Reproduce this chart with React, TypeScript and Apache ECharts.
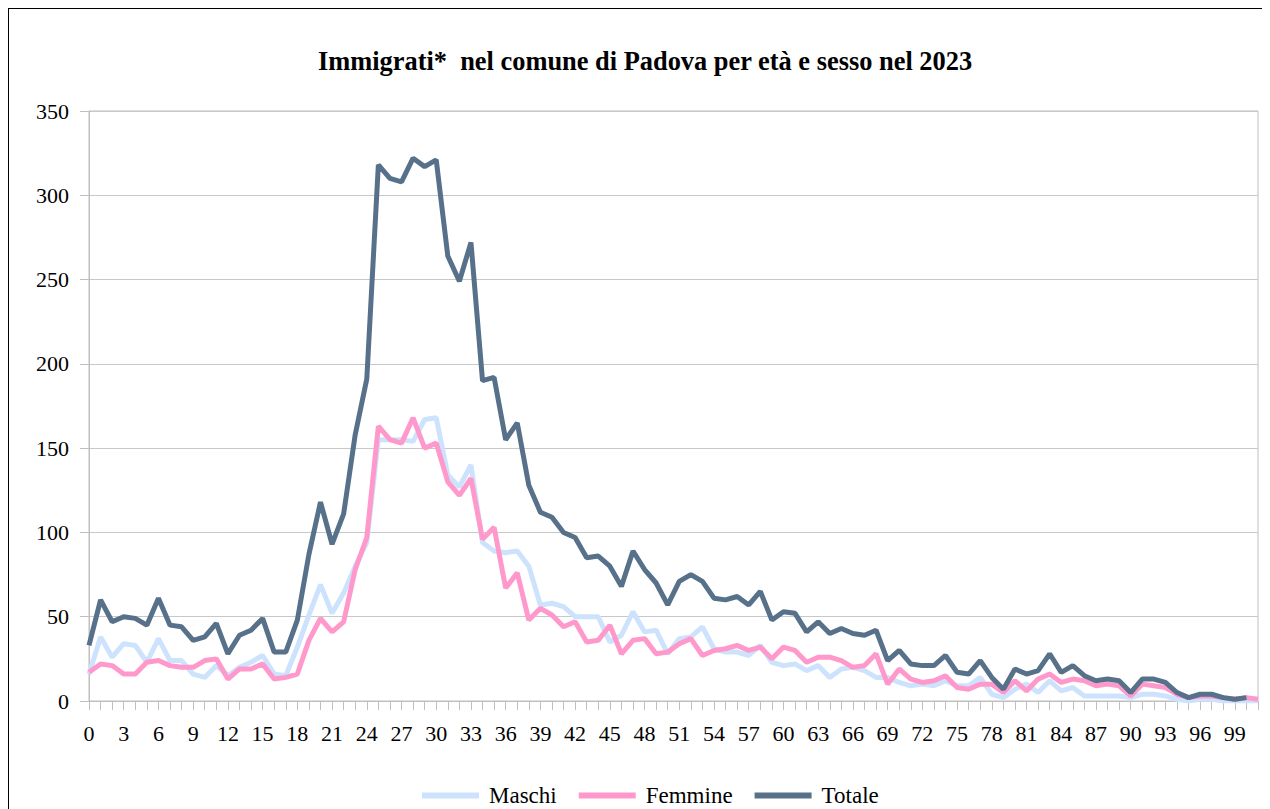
import React, { useEffect, useRef } from "react";
import * as echarts from "echarts";

const ages: string[] = Array.from({ length: 102 }, (_, i) => String(i));

const maschi = [
  16, 38, 26, 34, 33, 23, 37, 24, 24, 16, 14, 21, 15, 20, 23, 27, 16, 15, 32, 51,
  69, 52, 64, 80, 94, 155, 155, 155, 154, 167, 168, 134, 127, 140, 94, 89, 88, 89, 80, 57,
  58, 56, 50, 50, 50, 35, 39, 53, 41, 42, 28, 37, 38, 44, 31, 29, 29, 27, 33, 23,
  21, 22, 18, 21, 14, 19, 20, 18, 14, 14, 11, 9, 10, 9, 12, 9, 9, 14, 4, 2,
  7, 10, 5, 12, 6, 8, 3, 3, 3, 3, 2, 4, 4, 3, 1, 0, 1, 1, 0, 0,
  0, 0,
];

const femmine = [
  17, 22, 21, 16, 16, 23, 24, 21, 20, 20, 24, 25, 13, 19, 19, 22, 13, 14, 16, 36,
  49, 41, 47, 78, 97, 163, 155, 153, 168, 150, 153, 130, 122, 132, 96, 103, 67, 76, 48, 55,
  51, 44, 47, 35, 36, 45, 28, 36, 37, 28, 29, 34, 37, 27, 30, 31, 33, 30, 32, 25,
  32, 30, 23, 26, 26, 24, 20, 21, 28, 10, 19, 13, 11, 12, 15, 8, 7, 10, 10, 5,
  12, 6, 13, 16, 11, 13, 12, 9, 10, 9, 3, 10, 9, 8, 4, 2, 3, 3, 2, 1,
  2, 1,
];

const totale = [
  33, 60, 47, 50, 49, 45, 61, 45, 44, 36, 38, 46, 28, 39, 42, 49, 29, 29, 48, 87,
  118, 93, 111, 158, 191, 318, 310, 308, 322, 317, 321, 264, 249, 272, 190, 192, 155, 165, 128, 112,
  109, 100, 97, 85, 86, 80, 68, 89, 78, 70, 57, 71, 75, 71, 61, 60, 62, 57, 65, 48,
  53, 52, 41, 47, 40, 43, 40, 39, 42, 24, 30, 22, 21, 21, 27, 17, 16, 24, 14, 7,
  19, 16, 18, 28, 17, 21, 15, 12, 13, 12, 5, 13, 13, 11, 5, 2, 4, 4, 2, 1,
  2,
];

const seriesNames = ["Maschi", "Femmine", "Totale"];
const titleText = "Immigrati*  nel comune di Padova per età e sesso nel 2023";

const FONT = "Liberation Serif";

export default function App() {
  const ref = useRef<HTMLDivElement>(null);
  useEffect(() => {
    document.documentElement.style.overflow = "hidden";
    if (!ref.current) return;
    const chart = echarts.init(ref.current, undefined, { renderer: "svg" });
    chart.setOption({
      animation: false,
      backgroundColor: "#ffffff",
      textStyle: { fontFamily: FONT },
      title: {
        text: titleText,
        left: 304,
        top: 34,
        textStyle: { fontFamily: FONT, fontSize: 26.4, fontWeight: "bold", color: "#000" },
      },
      legend: {
        data: seriesNames,
        left: 408,
        top: 770,
        icon: "rect",
        itemWidth: 57,
        itemHeight: 6,
        itemGap: 22,
        textStyle: { fontFamily: FONT, fontSize: 23, color: "#000", padding: [0, 0, 0, 5] },
      },
      grid: {
        left: 80,
        right: 12,
        top: 102,
        bottom: 108,
        show: true,
        borderColor: "#bfbfbf",
        borderWidth: 1,
      },
      xAxis: {
        type: "category",
        data: ages,
        boundaryGap: false,
        axisLine: { lineStyle: { color: "#bfbfbf", width: 1 } },
        axisTick: { show: true, interval: 0, length: 9, lineStyle: { color: "#bfbfbf" } },
        axisLabel: {
          interval: 2,
          margin: 21,
          fontFamily: FONT,
          fontSize: 22,
          color: "#000",
        },
        splitLine: { show: false },
      },
      yAxis: {
        type: "value",
        min: 0,
        max: 350,
        interval: 50,
        axisLine: { show: true, lineStyle: { color: "#bfbfbf", width: 1 } },
        axisTick: { show: true, length: 9, lineStyle: { color: "#bfbfbf" } },
        axisLabel: { margin: 20, fontFamily: FONT, fontSize: 22, color: "#000" },
        splitLine: { show: true, lineStyle: { color: "#c8c8c8", width: 1 } },
      },
      series: [
        {
          name: "Maschi",
          type: "line",
          data: maschi,
          symbol: "none",
          lineStyle: { color: "#cde3fd", width: 5 },
          itemStyle: { color: "#cde3fd" },
        },
        {
          name: "Femmine",
          type: "line",
          data: femmine,
          symbol: "none",
          lineStyle: { color: "#ff99cc", width: 5 },
          itemStyle: { color: "#ff99cc" },
        },
        {
          name: "Totale",
          type: "line",
          data: totale,
          symbol: "none",
          lineStyle: { color: "#57718a", width: 5 },
          itemStyle: { color: "#57718a" },
        },
      ],
    });
    return () => chart.dispose();
  }, []);
  return (
    <div
      ref={ref}
      style={{
        width: 1262,
        height: 801,
        boxSizing: "border-box",
        borderLeft: "1px solid #000",
        borderTop: "1px solid #000",
      }}
    />
  );
}
